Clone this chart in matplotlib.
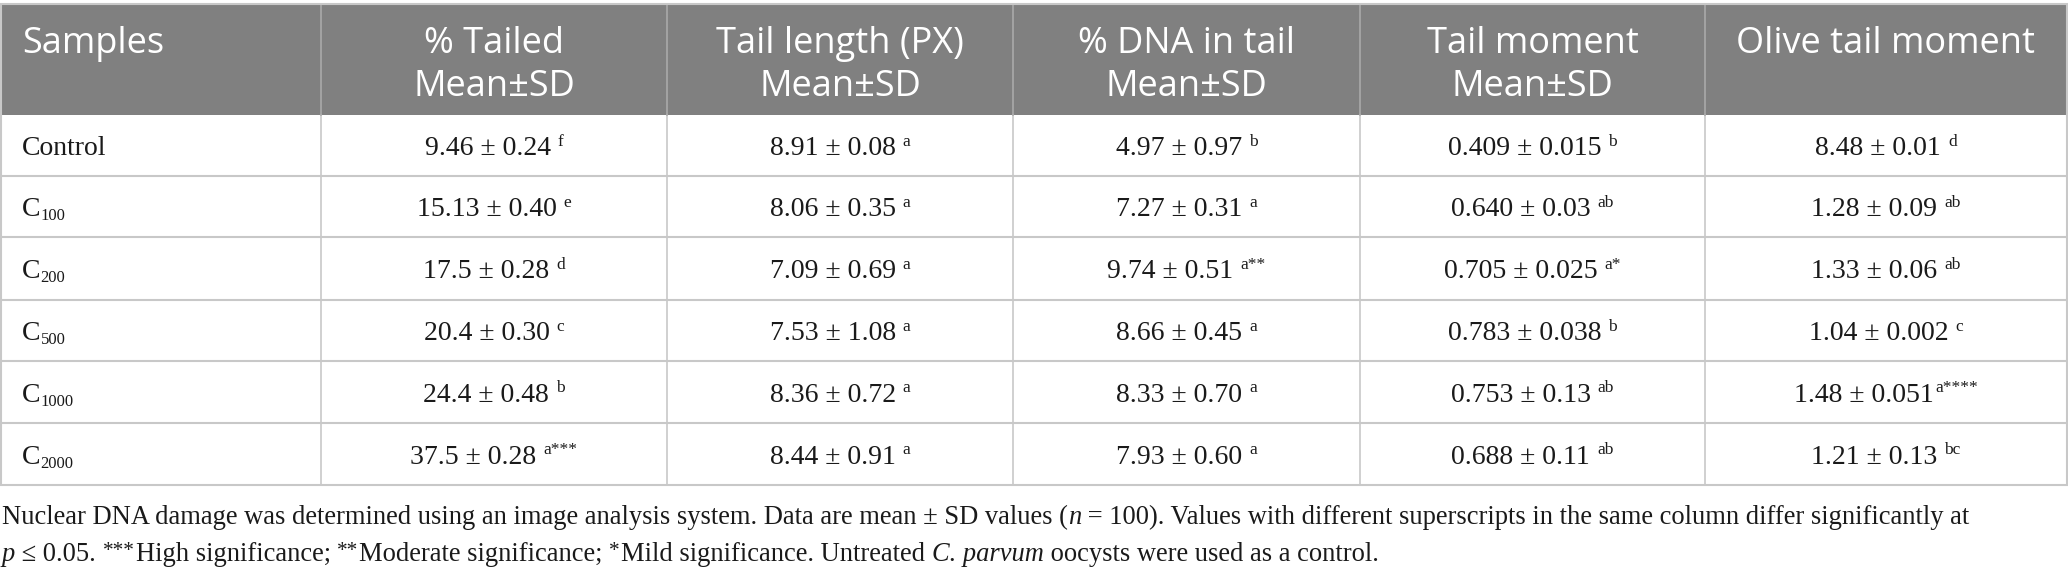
import matplotlib.pyplot as plt
from matplotlib.patches import Rectangle

# ===================== data =====================
headers = [
    ["Samples"],
    ["% Tailed", "Mean±SD"],
    ["Tail length (PX)", "Mean±SD"],
    ["% DNA in tail", "Mean±SD"],
    ["Tail moment", "Mean±SD"],
    ["Olive tail moment"],
]

sample_base = ["Control", "C", "C", "C", "C", "C"]
sample_sub = ["", "100", "200", "500", "1000", "2000"]

tailed = ["9.46 ± 0.24", "15.13 ± 0.40", "17.5 ± 0.28", "20.4 ± 0.30", "24.4 ± 0.48", "37.5 ± 0.28"]
tailed_sup = [" f", " e", " d", " c", " b", " a***"]

tail_length = ["8.91 ± 0.08", "8.06 ± 0.35", "7.09 ± 0.69", "7.53 ± 1.08", "8.36 ± 0.72", "8.44 ± 0.91"]
tail_length_sup = [" a", " a", " a", " a", " a", " a"]

dna_tail = ["4.97 ± 0.97", "7.27 ± 0.31", "9.74 ± 0.51", "8.66 ± 0.45", "8.33 ± 0.70", "7.93 ± 0.60"]
dna_tail_sup = [" b", " a", " a**", " a", " a", " a"]

tail_moment = ["0.409 ± 0.015", "0.640 ± 0.03", "0.705 ± 0.025", "0.783 ± 0.038", "0.753 ± 0.13", "0.688 ± 0.11"]
tail_moment_sup = [" b", " ab", " a*", " b", " ab", " ab"]

olive = ["8.48 ± 0.01", "1.28 ± 0.09", "1.33 ± 0.06", "1.04 ± 0.002", "1.48 ± 0.051", "1.21 ± 0.13"]
olive_sup = [" d", " ab", " ab", " c", "a****", " bc"]

value_cols = [(tailed, tailed_sup), (tail_length, tail_length_sup), (dna_tail, dna_tail_sup),
              (tail_moment, tail_moment_sup), (olive, olive_sup)]

footnote_1 = [("Nuclear DNA damage was determined using an image analysis system. Data are mean ± SD values (", "n"),
              ("n", "i"),
              (" = 100). Values with different superscripts in the same column differ significantly at", "n")]
footnote_2 = [("p", "i"), (" ≤ 0.05. ", "n"), ("***", "s"), ("High significance; ", "n"), ("**", "s"),
              ("Moderate significance; ", "n"), ("*", "s"), ("Mild significance. Untreated ", "n"),
              ("C. parvum", "i"), (" oocysts were used as a control.", "n")]

# ===================== layout =====================
W, H = 2068, 577
col_edges = [0, 321, 667, 1013, 1360, 1705, 2067]
row_edges = [115, 176, 237, 300, 361, 423, 485]
head_top = 4

HEAD_BG = "#808080"
GRID = "#c8c8c8"
TXT = "#1a1a1a"

fig = plt.figure(figsize=(W / 100, H / 100), dpi=100)
ax = fig.add_axes([0, 0, 1, 1])
ax.set_xlim(0, W)
ax.set_ylim(H, 0)
ax.axis("off")
renderer = fig.canvas.get_renderer()

serif = dict(family=["Liberation Serif", "DejaVu Serif"], color=TXT)
body = dict(serif, fontsize=20)
small = dict(serif, fontsize=12.5)
head = dict(family=["Open Sans", "DejaVu Sans"], fontsize=26, color="white")


def width_px(s, **kw):
    # measure with bars around so spaces are counted
    t = ax.text(0, 0, "|" + s + "|", **kw)
    w1 = t.get_window_extent(renderer).width
    t.remove()
    t = ax.text(0, 0, "||", **kw)
    w0 = t.get_window_extent(renderer).width
    t.remove()
    return w1 - w0


# header band
ax.add_patch(Rectangle((0, head_top), W, row_edges[0] - head_top, fc=HEAD_BG, ec="none", zorder=0))

# grid
for y in row_edges[1:-1]:
    ax.plot([0, W], [y, y], color=GRID, lw=1.5, zorder=1)
for x in col_edges[1:-1]:
    ax.plot([x, x], [row_edges[0], row_edges[-1]], color=GRID, lw=1.2, zorder=1)
    ax.plot([x, x], [head_top, row_edges[0]], color="#a9a9a9", lw=1.2, zorder=1)
ax.add_patch(Rectangle((0.7, head_top), W - 1.6, row_edges[-1] - head_top, fc="none", ec=GRID, lw=1.5, zorder=2))

# header text
for j, lines in enumerate(headers):
    for k, line in enumerate(lines):
        yb = 53 + 43 * k
        if j == 0:
            ax.text(22, yb, line, ha="left", va="baseline", **head)
        else:
            ax.text((col_edges[j] + col_edges[j + 1]) / 2, yb, line, ha="center", va="baseline", **head)

# sample column
for i in range(len(sample_base)):
    yb = (row_edges[i] + row_edges[i + 1]) / 2 + 9.5
    ax.text(22, yb, sample_base[i], ha="left", va="baseline", **body)
    if sample_sub[i]:
        wc = width_px(sample_base[i], **body)
        ax.text(22 + wc, yb + 4, sample_sub[i], ha="left", va="baseline", **dict(serif, fontsize=12))

# value columns
for j, (vals, sups) in enumerate(value_cols, start=1):
    cx = (col_edges[j] + col_edges[j + 1]) / 2
    for i, (v, s) in enumerate(zip(vals, sups)):
        yb = (row_edges[i] + row_edges[i + 1]) / 2 + 9.5
        wm = width_px(v, **body)
        gap = width_px(" ", **body) if s.startswith(" ") else 1
        sup = s.strip()
        ws = width_px(sup, **small)
        x0 = cx - (wm + gap + ws) / 2
        ax.text(x0, yb, v, ha="left", va="baseline", **body)
        ax.text(x0 + wm + gap, yb - 9, sup, ha="left", va="baseline", **small)


# footnote
def draw_runs(x, yb, runs, size=19.1):
    for text, style in runs:
        if style == "s":
            kw = dict(serif, fontsize=size * 0.8)
            ax.text(x, yb - 5, text, ha="left", va="baseline", **kw)
            x += width_px(text, **kw) + 1
            continue
        kw = dict(serif, fontsize=size, style="italic" if style == "i" else "normal")
        ax.text(x, yb, text, ha="left", va="baseline", **kw)
        x += width_px(text, **kw)


draw_runs(2, 524, footnote_1)
draw_runs(2, 561, footnote_2)

fig.savefig("out.png", dpi=100, facecolor="white")
